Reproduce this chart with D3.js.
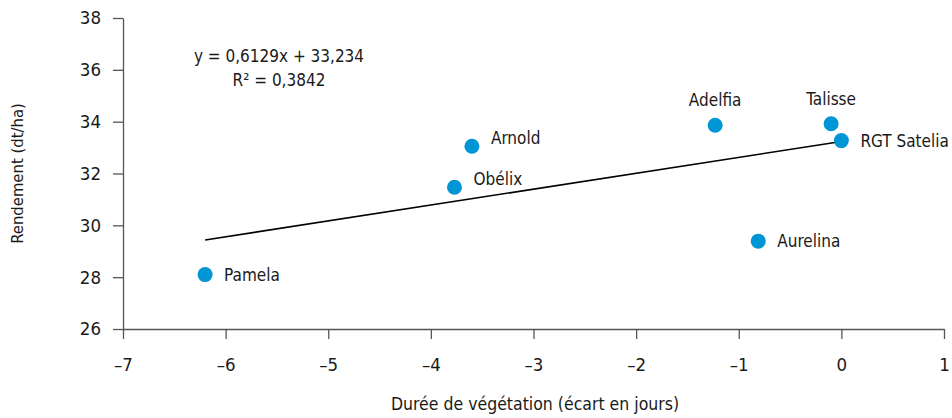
<!DOCTYPE html>
<html>
<head>
<meta charset="utf-8">
<script src="https://cdn.jsdelivr.net/npm/d3@7"></script>
<style>
  body { margin: 0; background: #fff; }
  svg text { font-family: "Liberation Sans Narrow", "DejaVu Sans Condensed", sans-serif; fill: #1a1a1a; }
  .axis path, .axis line { stroke: #555; stroke-width: 1.3; }
</style>
</head>
<body>
<script>
'use strict';

// Data
const varieties = ['Pamela', 'Obélix', 'Arnold', 'Adelfia', 'Talisse', 'RGT Satelia', 'Aurelina'];
const duree = [-6.2, -3.77, -3.6, -1.23, -0.1, 0, -0.81];
const rendement = [28.1, 31.47, 33.05, 33.86, 33.92, 33.27, 29.39];

const xTicks = [-7, -6, -5, -4, -3, -2, -1, 0, 1];
const yTicks = [26, 28, 30, 32, 34, 36, 38];

// trend line (Excel linear fit)
const slope = 0.6129;
const intercept = 33.234;
const eqLines = ['y = 0,6129x + 33,234', 'R² = 0,3842'];

// label placement: right / above
const labelPlace = ['right', 'rightUp', 'rightUp', 'above', 'above', 'right', 'right'];

const width = 952, height = 418;
const margin = { top: 18, right: 8, bottom: 89, left: 123 };

const svg = d3.select('body').append('svg')
  .attr('width', width)
  .attr('height', height);

const x = d3.scaleLinear().domain([-7, 1]).range([margin.left, width - margin.right]);
const y = d3.scaleLinear().domain([26, 38]).range([height - margin.bottom, margin.top]);

const fmt = d => d < 0 ? '\u2013' + Math.abs(d) : String(d);

// Axes
svg.append('g')
  .attr('class', 'axis')
  .attr('transform', `translate(0,${y(26)})`)
  .call(d3.axisBottom(x).tickValues(xTicks).tickFormat(fmt).tickSize(10).tickSizeOuter(0).tickPadding(19))
  .call(g => g.selectAll('text').attr('font-size', 18.5).attr('font-family', null));

svg.append('g')
  .attr('class', 'axis')
  .attr('transform', `translate(${x(-7)},0)`)
  .call(d3.axisLeft(y).tickValues(yTicks).tickSize(10).tickSizeOuter(0).tickPadding(12))
  .call(g => g.selectAll('text').attr('font-size', 18.5).attr('font-family', null));

svg.selectAll('.axis .domain').attr('stroke', '#555');

// Axis titles
svg.append('text')
  .attr('x', 535)
  .attr('y', 404)
  .attr('dy', '0.35em')
  .attr('text-anchor', 'middle')
  .attr('font-size', 17.5)
  .text('Durée de végétation (écart en jours)');

svg.append('text')
  .attr('transform', `translate(17,${(y(26) + y(38)) / 2}) rotate(-90)`)
  .attr('dy', '0.35em')
  .attr('text-anchor', 'middle')
  .attr('font-size', 16.5)
  .text('Rendement (dt/ha)');

// Trend line
const xMin = d3.min(duree), xMax = d3.max(duree);
svg.append('line')
  .attr('x1', x(xMin)).attr('y1', y(slope * xMin + intercept))
  .attr('x2', x(xMax)).attr('y2', y(slope * xMax + intercept))
  .attr('stroke', '#000')
  .attr('stroke-width', 1.6);

// Equation
svg.append('text')
  .attr('x', 279)
  .attr('y', 56)
  .attr('text-anchor', 'middle')
  .attr('font-size', 17)
  .selectAll('tspan')
  .data(eqLines)
  .enter().append('tspan')
  .attr('x', 279)
  .attr('dy', (_d, i) => i === 0 ? '0.35em' : 24)
  .text(d => d);

// Points
const pts = varieties.map((name, i) => ({ name, x: duree[i], y: rendement[i], place: labelPlace[i] }));

svg.append('g').selectAll('circle')
  .data(pts)
  .enter().append('circle')
  .attr('cx', d => x(d.x))
  .attr('cy', d => y(d.y))
  .attr('r', 7.5)
  .attr('fill', '#0095d5');

svg.append('g').selectAll('text')
  .data(pts)
  .enter().append('text')
  .attr('font-size', 17)
  .attr('text-anchor', d => d.place === 'above' ? 'middle' : 'start')
  .attr('x', d => x(d.x) + (d.place === 'above' ? 0 : 19))
  .attr('y', d => y(d.y) + (d.place === 'above' ? -25 : d.place === 'rightUp' ? -8 : 0))
  .attr('dy', '0.35em')
  .text(d => d.name);
</script>
</body>
</html>
